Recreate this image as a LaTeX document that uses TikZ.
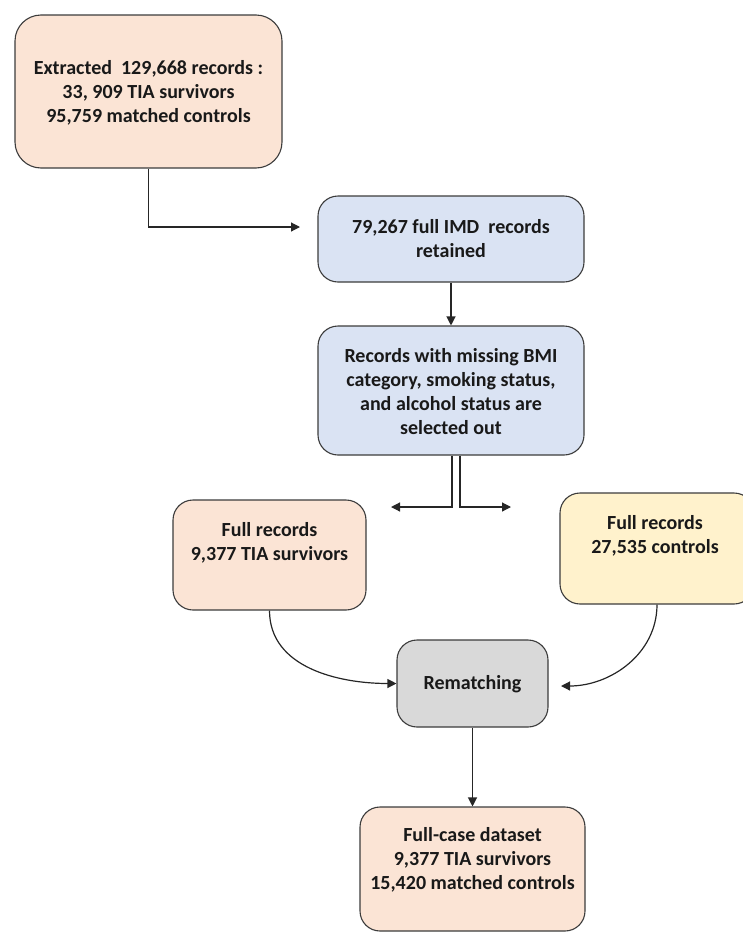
\documentclass[tikz,border=0pt]{standalone}
\usepackage{fontspec}
\setmainfont{Carlito}
\usetikzlibrary{arrows.meta}
\definecolor{peach}{RGB}{251,228,213}
\definecolor{paleblue}{RGB}{218,227,243}
\definecolor{paleyellow}{RGB}{255,242,204}
\definecolor{palegray}{RGB}{217,217,217}
\definecolor{edge}{RGB}{60,60,60}
\tikzset{
  box/.style={draw=edge, line width=1.1pt, rounded corners=20pt, inner sep=0pt},
  txt/.style={align=center, font=\fontsize{20}{24}\selectfont\bfseries, text=black!90},
  arr/.style={draw=black!85, line width=1.2pt, -{Triangle[length=9pt,width=9pt]}}
}
\begin{document}
\begin{tikzpicture}[x=1pt,y=-1pt]
\useasboundingbox (0,0) rectangle (743,932);
% boxes
\node[box, fill=peach, rounded corners=26pt, minimum width=267pt, minimum height=153pt] (b1) at (148.5,91.5) {};
\node[box, fill=paleblue, minimum width=266pt, minimum height=86pt] (b2) at (451,239) {};
\node[box, fill=paleblue, minimum width=266pt, minimum height=129pt] (b3) at (451,390.5) {};
\node[box, fill=peach, minimum width=193pt, minimum height=110pt] (b4) at (269.5,555) {};
\node[box, fill=paleyellow, minimum width=194pt, minimum height=111pt] (b5) at (657,548.5) {};
\node[box, fill=palegray, minimum width=151pt, minimum height=87pt] (b6) at (472.5,683.5) {};
\node[box, fill=peach, minimum width=225pt, minimum height=124pt] (b7) at (472.5,869) {};
% texts
\node[txt] (t1) at (148.5,93) {Extracted\ \ 129,668 records :\\33, 909 TIA survivors\\95,759 matched controls};
\node[txt] (t2) at (451,239) {79,267 full IMD\ \ records\\retained};
\node[txt] (t3) at (451,392) {Records with missing BMI\\category, smoking status,\\and alcohol status are\\selected out};
\node[txt] (t4) at (269.5,543) {Full records\\9,377 TIA survivors};
\node[txt] (t5) at (655,536) {Full records\\27,535 controls};
\node[txt] (t6) at (472.5,684) {Rematching};
\node[txt] (t7) at (472.5,860) {Full-case dataset\\9,377 TIA survivors\\15,420 matched controls};
% free ends
\coordinate (c1) at (300,227);
\coordinate (eL) at (391,507);
\coordinate (eR) at (511,507);
\coordinate (r6) at (561,686);
% connectors
\draw[arr] (b1.south) |- (c1);
\draw[arr] (b2.south) -- (b3.north);
\draw[arr] ([xshift=1pt]b3.south) |- (eL);
\draw[arr] ([xshift=9pt]b3.south) |- (eR);
\draw[arr] (b4.south) to[out=-90,in=180] (b6.west);
\draw[arr] (b5.south) to[out=-90,in=0] (r6);
\draw[arr] (b6.south) -- (b7.north);
\end{tikzpicture}
\end{document}
